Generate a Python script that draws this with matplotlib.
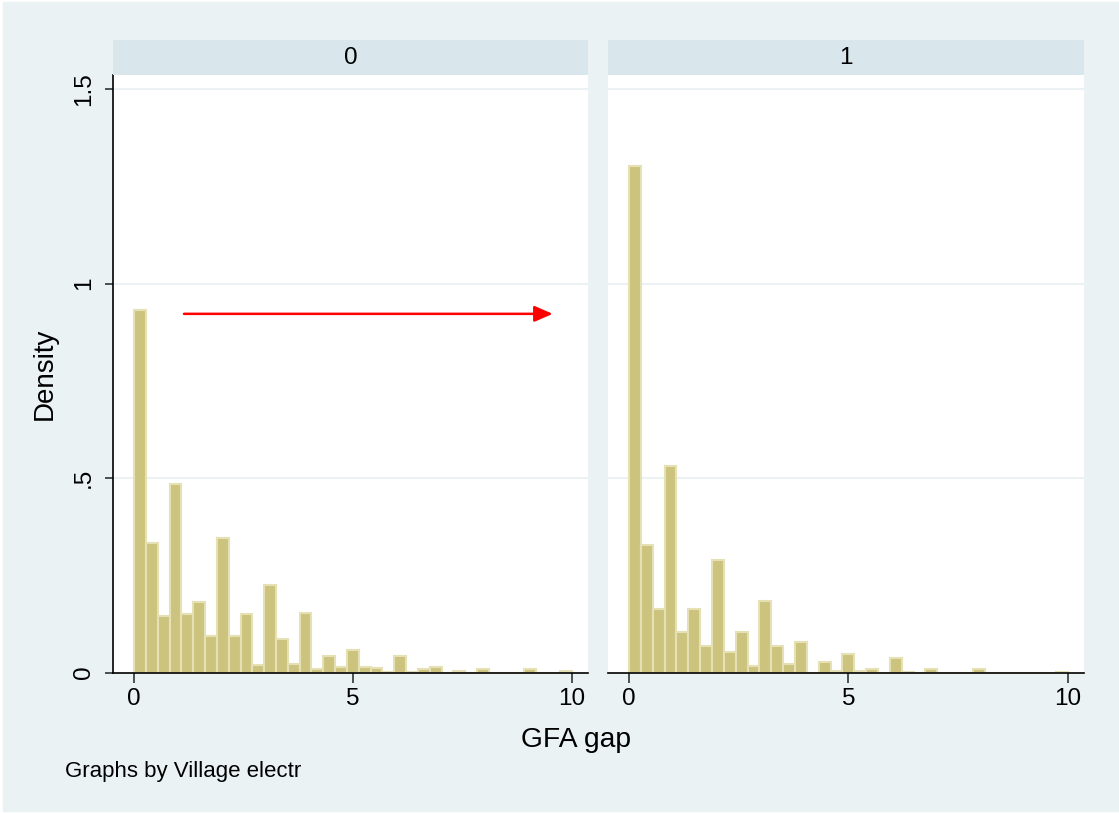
import numpy as np
import matplotlib.pyplot as plt
from matplotlib.patches import Rectangle

plt.rcParams["font.family"] = ["Liberation Sans", "DejaVu Sans"]

# histogram densities of GFA gap, 37 bins over [0, 10], by village electrification
panels = ["0", "1"]
density_0 = [0.931, 0.332, 0.146, 0.484, 0.151, 0.180, 0.095, 0.347, 0.095, 0.151,
             0.020, 0.226, 0.087, 0.022, 0.154, 0.010, 0.043, 0.015, 0.059, 0.015,
             0.012, 0.002, 0.042, 0.002, 0.010, 0.015, 0.0, 0.005, 0.0, 0.008,
             0.0, 0.0, 0.0, 0.008, 0.0, 0.0, 0.005]
density_1 = [1.302, 0.329, 0.163, 0.530, 0.103, 0.163, 0.069, 0.290, 0.053, 0.103,
             0.016, 0.185, 0.069, 0.023, 0.079, 0.0, 0.028, 0.004, 0.047, 0.005,
             0.008, 0.0, 0.036, 0.002, 0.0, 0.010, 0.0, 0.0, 0.0, 0.008,
             0.0, 0.0, 0.0, 0.0, 0.0, 0.0, 0.002]
x_min, x_max = 0, 10

BG = "#EAF2F3"
STRIP = "#D9E6EB"
FILL = "#CCC37E"
EDGE = "#E6E1B4"


def draw_panel(fig, rect, strip_rect, values, title, first):
    ax = fig.add_axes(rect)
    n = len(values)
    edges = np.linspace(x_min, x_max, n + 1)
    ax.bar(edges[:-1], values, width=np.diff(edges), align="edge",
           color=FILL, edgecolor=EDGE, linewidth=1.5, zorder=2)
    ax.set_xlim(-0.48, 10.37)
    ax.set_ylim(0, 1.536)
    ax.set_facecolor("white")
    for y in [0.5, 1, 1.5]:
        ax.axhline(y, color=BG, lw=1.5, zorder=1)
    for s in ["top", "right"]:
        ax.spines[s].set_visible(False)
    ax.spines["bottom"].set_color("black")
    ax.spines["bottom"].set_linewidth(1.2)
    ax.spines["bottom"].set_zorder(3)
    ax.set_xticks([0, 5, 10])
    ax.set_xticklabels(["0", "5", "10"])
    ax.tick_params(axis="x", length=7, width=1.2, color="#333333",
                   labelsize=17.5, pad=4)
    if first:
        ax.spines["left"].set_color("black")
        ax.spines["left"].set_linewidth(1.2)
        ax.set_yticks([0, 0.5, 1, 1.5])
        ax.set_yticklabels(["0", ".5", "1", "1.5"], rotation=90, va="center")
        ax.tick_params(axis="y", length=6, width=1.2, color="#333333",
                       labelsize=17.5, pad=7)
        ax.set_ylabel("Density", fontsize=20, labelpad=11)
    else:
        ax.spines["left"].set_visible(False)
        ax.set_yticks([])

    sax = fig.add_axes(strip_rect)
    sax.set_facecolor(STRIP)
    sax.set_xticks([])
    sax.set_yticks([])
    for s in sax.spines.values():
        s.set_visible(False)
    sax.text(0.5, 0.5, title, ha="center", va="center", fontsize=17.5,
             transform=sax.transAxes)
    return ax


def main():
    W, H = 1119, 813
    fig = plt.figure(figsize=(W / 100, H / 100), dpi=100, facecolor="white")
    fig.patches.append(Rectangle((3 / W, 2 / H), 1, 1 - 4 / H,
                                 transform=fig.transFigure, color=BG, zorder=-1))

    def frac(x0, x1, ytop, ybot):
        return [x0 / W, (H - ybot) / H, (x1 - x0) / W, (ybot - ytop) / H]

    ax0 = draw_panel(fig, frac(113, 588, 75, 672.5), frac(113, 588, 40, 75),
                     density_0, panels[0], True)
    draw_panel(fig, frac(608, 1084, 75, 672.5), frac(608, 1084, 40, 75),
               density_1, panels[1], False)

    ax0.annotate("", xy=(9.564, 0.922), xytext=(1.142, 0.922),
                 arrowprops=dict(arrowstyle="-|>,head_length=0.55,head_width=0.24",
                                 color="#FF0000", lw=1.8, mutation_scale=20,
                                 shrinkA=0, shrinkB=0), zorder=5)

    fig.text(576 / W, 1 - 740 / H, "GFA gap", ha="center", va="center", fontsize=20.3)
    fig.text(65 / W, 1 - 771 / H, "Graphs by Village electr", ha="left",
             va="center", fontsize=16)

    fig.savefig("out.png", dpi=100, facecolor=fig.get_facecolor())


if __name__ == "__main__":
    main()
